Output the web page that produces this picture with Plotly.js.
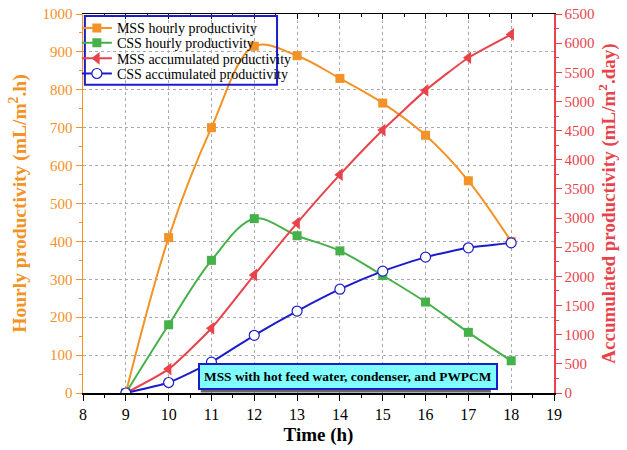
<!DOCTYPE html>
<html><head><meta charset="utf-8">
<script src="https://cdn.plot.ly/plotly-3.0.1.min.js"></script>
<style>html,body{margin:0;padding:0;background:#fff}#chart{width:627px;height:450px}</style>
</head><body><div id="chart"></div>
<script>
const time = [9, 10, 11, 12, 13, 14, 15, 16, 17, 18];
const mssHourly = [0, 410, 700, 915, 890, 830, 765, 680, 560, 400];
const cssHourly = [0, 180, 350, 460, 415, 375, 310, 240, 160, 85];
const mssAccum = [0, 410, 1110, 2025, 2915, 3745, 4510, 5190, 5750, 6150];
const cssAccum = [0, 180, 530, 990, 1405, 1780, 2090, 2330, 2490, 2575];
const xTicks = [8, 9, 10, 11, 12, 13, 14, 15, 16, 17, 18, 19];
const seriesNames = ["MSS hourly productivity", "CSS hourly productivity",
                     "MSS accumulated productivity", "CSS accumulated productivity"];
const noteText = "MSS with hot feed water, condenser, and PWPCM";

const ORANGE = "#F39226", GREEN = "#46B04A", RED = "#E8434B", BLUE = "#1C1CCB";
const FONT = "Liberation Serif";

const traces = [
  {x: time, y: mssHourly, name: seriesNames[0], mode: "lines+markers", legend: "legend",
   line: {color: ORANGE, width: 2, shape: "spline", smoothing: 1},
   marker: {symbol: "square", size: 9, color: ORANGE}},
  {x: time, y: cssHourly, name: seriesNames[1], mode: "lines+markers", legend: "legend2",
   line: {color: GREEN, width: 2, shape: "spline", smoothing: 1},
   marker: {symbol: "square", size: 9, color: GREEN}},
  {x: time, y: mssAccum, name: seriesNames[2], mode: "lines+markers", yaxis: "y2", legend: "legend3",
   line: {color: RED, width: 2, shape: "spline", smoothing: 0.5},
   marker: {symbol: "triangle-left", size: 11, color: RED}},
  {x: time, y: cssAccum, name: seriesNames[3], mode: "lines+markers", yaxis: "y2", legend: "legend4",
   line: {color: BLUE, width: 2, shape: "spline", smoothing: 0.5},
   marker: {symbol: "circle", size: 10, color: "#FFFFFF", line: {color: BLUE, width: 1.2}}},
  {x: [8, 19], y: [null, null], xaxis: "x2", showlegend: false, hoverinfo: "skip", mode: "lines"}
];

function leg(yc) {
  return {x: -0.013, y: yc, xanchor: "left", yanchor: "middle",
    bgcolor: "rgba(0,0,0,0)", borderwidth: 0,
    font: {family: FONT, size: 14, color: "#000"}, itemwidth: 30};
}

const layout = {
  width: 627, height: 450,
  margin: {l: 83, r: 73, t: 14, b: 57},
  paper_bgcolor: "#fff", plot_bgcolor: "#fff",
  font: {family: FONT, size: 15, color: "#000"},
  showlegend: true,
  legend: leg(0.962), legend2: leg(0.923), legend3: leg(0.882), legend4: leg(0.842),
  xaxis: {range: [8, 19], tickvals: xTicks, ticktext: xTicks.map(String),
    showline: true, linecolor: "#000", linewidth: 1.5, mirror: true,
    ticks: "outside", ticklen: 6, tickcolor: "#000",
    minor: {dtick: 0.5, ticks: "outside", ticklen: 3, tickcolor: "#000", showgrid: false},
    showgrid: true, gridcolor: "#AAAAAA", griddash: "dot", gridwidth: 1,
    zeroline: false,
    tickfont: {family: FONT, size: 16, color: "#000"},
    title: {text: "<b>Time (h)</b>", font: {family: FONT, size: 19, color: "#000"}, standoff: 6}},
  xaxis2: {range: [8, 19], overlaying: "x", side: "top", matches: "x",
    tickvals: xTicks, ticks: "inside", ticklen: 5, tickcolor: "#000",
    minor: {dtick: 0.5, ticks: "inside", ticklen: 3, tickcolor: "#000"},
    showticklabels: false, showgrid: false, zeroline: false, showline: false},
  yaxis: {range: [0, 1000], dtick: 100, showline: true, linecolor: ORANGE, linewidth: 1.5,
    ticks: "outside", ticklen: 6, tickcolor: ORANGE,
    minor: {dtick: 50, ticks: "outside", ticklen: 3, tickcolor: ORANGE, showgrid: false},
    showgrid: true, gridcolor: "#AAAAAA", griddash: "dot", gridwidth: 1, zeroline: false,
    tickfont: {family: FONT, size: 15, color: ORANGE},
    title: {text: "<b>Hourly productivity (mL/m<sup>2</sup>.h)</b>", font: {family: FONT, size: 19.5, color: ORANGE}, standoff: 10}},
  yaxis2: {range: [0, 6500], dtick: 500, overlaying: "y", side: "right",
    showline: true, linecolor: RED, linewidth: 1.5,
    ticks: "outside", ticklen: 6, tickcolor: RED,
    minor: {dtick: 250, ticks: "outside", ticklen: 3, tickcolor: RED, showgrid: false},
    showgrid: false, zeroline: false,
    tickfont: {family: FONT, size: 15, color: RED},
    title: {text: "<b>Accumulated productivity (mL/m<sup>2</sup>.day)</b>", font: {family: FONT, size: 19, color: RED}, standoff: 8}},
  shapes: [
    {type: "rect", xref: "paper", yref: "paper", x0: 0.004, x1: 0.412, y0: 0.813, y1: 0.995,
     fillcolor: "rgba(0,0,0,0)", line: {width: 2, color: BLUE}, layer: "above"},
    {type: "rect", xref: "paper", yref: "paper", x0: 0.250, x1: 0.866, y0: 0.001, y1: 0.070,
     fillcolor: "#666", line: {width: 0}, layer: "above"}
  ],
  annotations: [
    {xref: "paper", yref: "paper", x: 0.2452, y: 0.007, xanchor: "left", yanchor: "bottom",
     text: "<b>" + noteText + "</b>", showarrow: false,
     font: {family: FONT, size: 13.4, color: "#000"},
     bgcolor: "#7FFFFF", bordercolor: BLUE, borderwidth: 2, borderpad: 4}
  ]
};

Plotly.newPlot("chart", traces, layout, {displayModeBar: false, staticPlot: true});
</script></body></html>
